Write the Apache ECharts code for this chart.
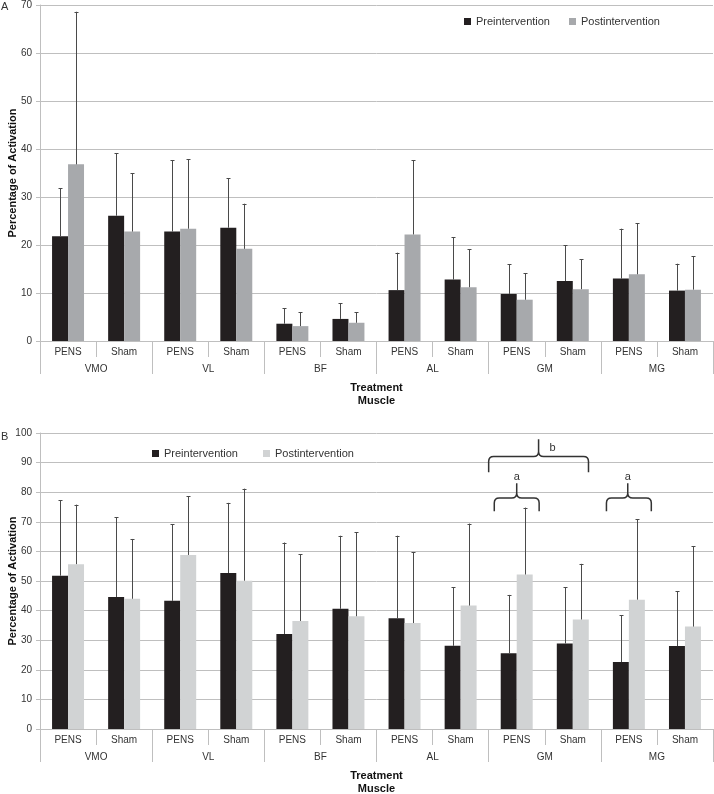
<!DOCTYPE html>
<html>
<head>
<meta charset="utf-8">
<script src="https://cdn.jsdelivr.net/npm/echarts@6/dist/echarts.min.js"></script>
<style>
html,body{margin:0;padding:0;background:#fff;}
#main{width:714px;height:794px;}
</style>
</head>
<body>
<div id="main"></div>
<script>
// categories
var muscles = ['VMO', 'VL', 'BF', 'AL', 'GM', 'MG'];
var treatments = [];
for (var m = 0; m < muscles.length; m++) treatments.push('PENS', 'Sham');

// panel A : mean and top of error bar
var aPre    = [21.8, 26.1, 22.8, 23.6, 3.6, 4.6, 10.6, 12.8, 9.8, 12.5, 13.0, 10.5];
var aPost   = [36.8, 22.8, 23.4, 19.2, 3.1, 3.8, 22.2, 11.2, 8.6, 10.8, 13.9, 10.7];
var aPreHi  = [31.8, 39.1, 37.7, 33.9, 6.8, 7.9, 18.4, 21.6, 16.0, 20.0, 23.4, 16.1];
var aPostHi = [68.6, 34.9, 37.9, 28.6, 6.0, 6.0, 37.7, 19.1, 14.1, 17.0, 24.5, 17.7];

// panel B
var bPre    = [51.8, 44.6, 43.3, 52.7, 32.1, 40.6, 37.4, 28.1, 25.6, 28.9, 22.6, 28.0];
var bPost   = [55.7, 44.0, 58.8, 50.1, 36.5, 38.1, 35.8, 41.7, 52.2, 37.0, 43.7, 34.6];
var bPreHi  = [77.3, 71.5, 69.1, 76.4, 63.0, 65.3, 65.3, 47.9, 45.3, 47.9, 38.4, 46.5];
var bPostHi = [75.8, 64.2, 78.7, 81.2, 59.0, 66.4, 59.8, 69.4, 74.8, 55.8, 70.8, 61.8];

// significance braces in panel B : [left cat, right cat, tip cat, tip y, bar y, end y, label]
var braces = [
  [7.5, 9.28, 8.39, 97.9, 92.1, 86.7, 'b'],
  [7.6, 8.4, 8.0, 83.0, 78.0, 73.6, 'a'],
  [9.6, 10.4, 9.98, 83.0, 78.0, 73.6, 'a']
];

var FONT = '"Liberation Sans", Arial, sans-serif';
var GRIDC = '#bfbfbf';
var TXT = '#333';
var PRE = '#231f20';
var POSTA = '#a7a9ac';
var POSTB = '#d1d3d4';
var GAP = 0.43;

var chart = echarts.init(document.getElementById('main'));

function zipErr(mean, hi) {
  var out = [];
  for (var i = 0; i < mean.length; i++) out.push([i, mean[i], hi[i]]);
  return out;
}

function errRender(side) {
  return function (params, api) {
    var i = api.value(0);
    var c = api.coord([i, api.value(1)]);
    var t = api.coord([i, api.value(2)]);
    var band = api.size([1, 0])[0];
    var bw = band * (1 - GAP) / 2;
    var x = Math.round(c[0] + side * bw / 2) + 0.5;
    var st = {stroke: '#4a4a4a', lineWidth: 1};
    return {
      type: 'group',
      children: [
        {type: 'line', shape: {x1: x, y1: c[1], x2: x, y2: t[1]}, style: st},
        {type: 'line', shape: {x1: x - 2, y1: Math.round(t[1]) + 0.5, x2: x + 2, y2: Math.round(t[1]) + 0.5}, style: st}
      ]
    };
  };
}

function braceRender(params, api) {
  var b = braces[params.dataIndex];
  var band = api.size([1, 0])[0];
  var x0 = api.coord([0, 0])[0];
  var xl = x0 + b[0] * band, xr = x0 + b[1] * band, xt = x0 + b[2] * band;
  var yt = api.coord([0, b[3]])[1], yb = api.coord([0, b[4]])[1], ye = api.coord([0, b[5]])[1];
  var r = 5;
  var d = 'M' + xl + ' ' + ye +
    ' L' + xl + ' ' + (yb + r) +
    ' Q' + xl + ' ' + yb + ' ' + (xl + r) + ' ' + yb +
    ' L' + (xt - r) + ' ' + yb +
    ' Q' + xt + ' ' + yb + ' ' + xt + ' ' + (yb - r) +
    ' L' + xt + ' ' + yt +
    ' M' + xt + ' ' + (yb - r) +
    ' Q' + xt + ' ' + yb + ' ' + (xt + r) + ' ' + yb +
    ' L' + (xr - r) + ' ' + yb +
    ' Q' + xr + ' ' + yb + ' ' + xr + ' ' + (yb + r) +
    ' L' + xr + ' ' + ye;
  var label;
  if (b[6] === 'b') {
    label = {type: 'text', style: {text: b[6], x: xt + 14, y: (yt + yb) / 2, fill: TXT, font: '11px ' + FONT, align: 'center', verticalAlign: 'middle'}};
  } else {
    label = {type: 'text', style: {text: b[6], x: xt, y: yt - 6, fill: TXT, font: '11px ' + FONT, align: 'center', verticalAlign: 'middle'}};
  }
  return {
    type: 'group',
    children: [
      {type: 'path', shape: {pathData: d}, style: {stroke: '#333', lineWidth: 1.5, fill: null}},
      label
    ]
  };
}

function innerAxis(grid) {
  return {
    type: 'category', gridIndex: grid, position: 'bottom', data: treatments,
    axisLine: {show: true, lineStyle: {color: GRIDC}},
    axisTick: {show: true, interval: 0, length: 16, lineStyle: {color: GRIDC}},
    axisLabel: {interval: 0, margin: 6, fontSize: 10, color: TXT, fontFamily: FONT},
    name: 'Treatment\nMuscle', nameLocation: 'middle', nameGap: 40, nameMoveOverlap: false,
    nameTextStyle: {fontSize: 11, fontWeight: 'bold', color: '#111', fontFamily: FONT, lineHeight: 13}
  };
}
function outerAxis(grid) {
  return {
    type: 'category', gridIndex: grid, position: 'bottom', data: muscles,
    axisLine: {show: false},
    axisTick: {show: true, interval: 0, length: 33, lineStyle: {color: GRIDC}},
    axisLabel: {interval: 0, margin: 23, fontSize: 10, color: TXT, fontFamily: FONT}
  };
}
function valAxis(grid, max) {
  return {
    type: 'value', gridIndex: grid, min: 0, max: max, interval: 10,
    axisLine: {show: true, lineStyle: {color: GRIDC}},
    axisTick: {show: true, length: 4, lineStyle: {color: GRIDC}},
    axisLabel: {margin: 8, fontSize: 10, color: TXT, fontFamily: FONT},
    splitLine: {show: true, lineStyle: {color: GRIDC}},
    name: 'Percentage of Activation', nameLocation: 'middle', nameGap: 22, nameMoveOverlap: false,
    nameTextStyle: {fontSize: 11, fontWeight: 'bold', color: '#111', fontFamily: FONT}
  };
}

var option = {
  animation: false,
  backgroundColor: '#fff',
  textStyle: {fontFamily: FONT},
  grid: [
    {left: 40, right: 1, top: 5, height: 336, containLabel: false, outerBoundsMode: 'none'},
    {left: 40, right: 1, top: 433, height: 296, containLabel: false, outerBoundsMode: 'none'}
  ],
  xAxis: [innerAxis(0), outerAxis(0), innerAxis(1), outerAxis(1)],
  yAxis: [valAxis(0, 70), valAxis(1, 100)],
  legend: [
    {
      left: 459, top: 11, itemWidth: 7, itemHeight: 7, itemGap: 19,
      icon: 'rect', textStyle: {fontSize: 11, color: TXT, fontFamily: FONT},
      data: ['Preintervention', 'Postintervention']
    },
    {
      left: 147, top: 443, itemWidth: 7, itemHeight: 7, itemGap: 25,
      icon: 'rect', textStyle: {fontSize: 11, color: TXT, fontFamily: FONT},
      data: [
        {name: 'Preintervention', itemStyle: {color: PRE}},
        {name: 'Postintervention', itemStyle: {color: POSTB}}
      ]
    }
  ],
  graphic: [
    {type: 'text', left: 1, top: 1, style: {text: 'A', font: '11px ' + FONT, fill: TXT}},
    {type: 'text', left: 1, top: 431, style: {text: 'B', font: '11px ' + FONT, fill: TXT}}
  ],
  series: [
    {name: 'Preintervention', type: 'bar', xAxisIndex: 0, yAxisIndex: 0, data: aPre,
      barGap: '0%', barCategoryGap: (GAP * 100) + '%', itemStyle: {color: PRE}},
    {name: 'Postintervention', type: 'bar', xAxisIndex: 0, yAxisIndex: 0, data: aPost,
      itemStyle: {color: POSTA}},
    {name: 'Preintervention', type: 'bar', xAxisIndex: 2, yAxisIndex: 1, data: bPre,
      barGap: '0%', barCategoryGap: (GAP * 100) + '%', itemStyle: {color: PRE}},
    {name: 'Postintervention', type: 'bar', xAxisIndex: 2, yAxisIndex: 1, data: bPost,
      itemStyle: {color: POSTB}},
    {type: 'custom', xAxisIndex: 0, yAxisIndex: 0, renderItem: errRender(-1),
      encode: {x: 0, y: [1, 2]}, data: zipErr(aPre, aPreHi), z: 3},
    {type: 'custom', xAxisIndex: 0, yAxisIndex: 0, renderItem: errRender(1),
      encode: {x: 0, y: [1, 2]}, data: zipErr(aPost, aPostHi), z: 3},
    {type: 'custom', xAxisIndex: 2, yAxisIndex: 1, renderItem: errRender(-1),
      encode: {x: 0, y: [1, 2]}, data: zipErr(bPre, bPreHi), z: 3},
    {type: 'custom', xAxisIndex: 2, yAxisIndex: 1, renderItem: errRender(1),
      encode: {x: 0, y: [1, 2]}, data: zipErr(bPost, bPostHi), z: 3},
    {type: 'custom', xAxisIndex: 2, yAxisIndex: 1, renderItem: braceRender,
      encode: {x: 0, y: 1}, data: braces.map(function (b) { return [b[2], b[4]]; }),
      clip: false, z: 4}
  ]
};
chart.setOption(option);
</script>
</body>
</html>
